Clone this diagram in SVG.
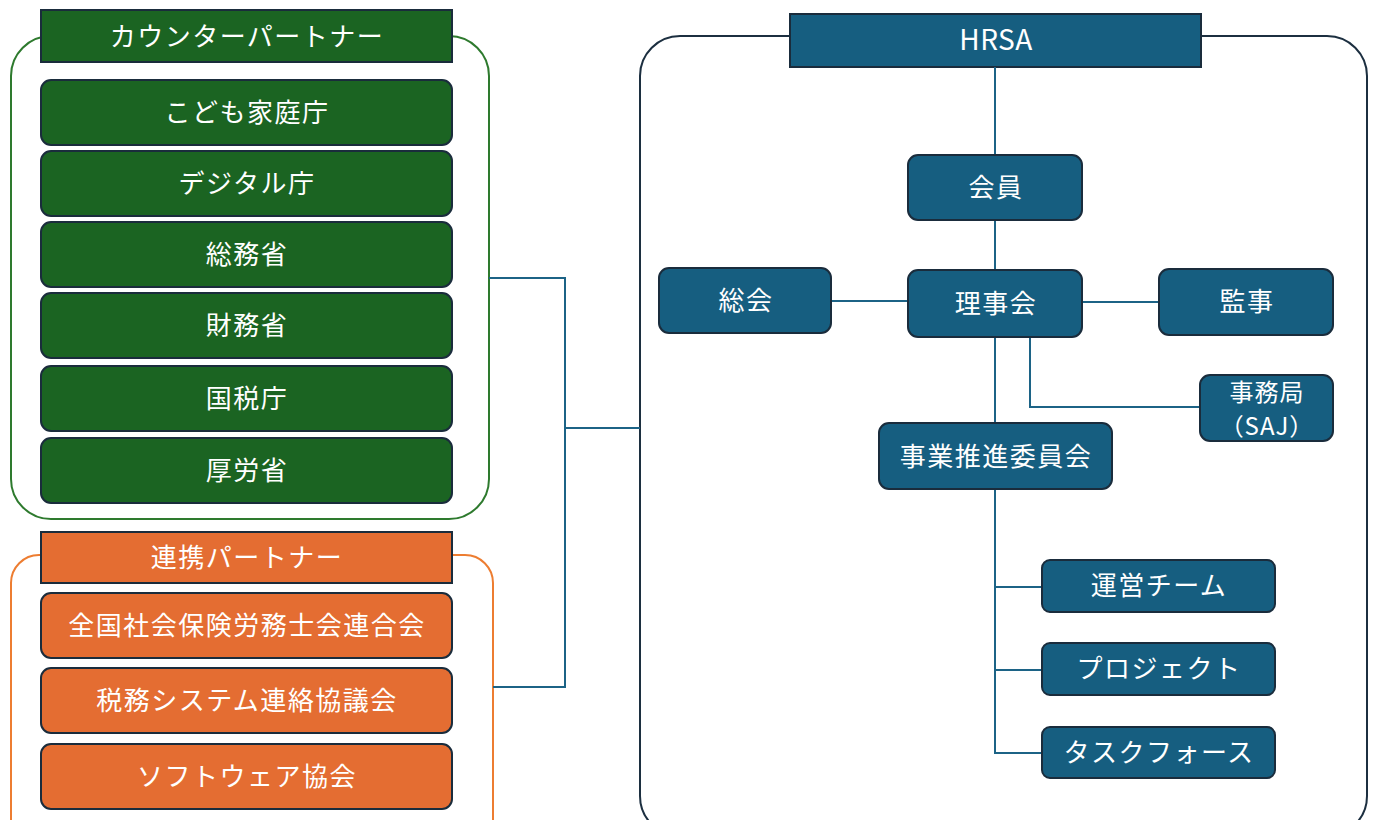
<svg xmlns="http://www.w3.org/2000/svg" width="1373" height="820" viewBox="0 0 1373 820">
<style>
.t{font-family:"Noto Sans CJK JP","Noto Sans",sans-serif;font-size:26px;letter-spacing:1.5px;fill:#ffffff;text-anchor:middle;dominant-baseline:central}
.s{font-size:24px;letter-spacing:1px}
.h{font-size:28px;letter-spacing:0.5px}
.g{fill:#1b6422;stroke:#1a2c3c;stroke-width:2}
.o{fill:#e46d32;stroke:#1a2c3c;stroke-width:2}
.b{fill:#165e80;stroke:#1a2c3c;stroke-width:2}
.c{fill:none;stroke:#1c6386;stroke-width:2}
</style>
<rect width="1373" height="820" fill="#ffffff"/>
<g id="counter-partner">
<rect x="11" y="36" width="478" height="483" rx="40" fill="none" stroke="#2e7a2e" stroke-width="2"/>
<rect class="g" x="41" y="10" width="411" height="52"/>
<text class="t" x="247" y="34">カウンターパートナー</text>
</g>
<g id="n-kodomo"><rect class="g" x="41" y="80" width="411" height="65" rx="10"/><text class="t" x="247" y="110">こども家庭庁</text></g>
<g id="n-digital"><rect class="g" x="41" y="151" width="411" height="65" rx="10"/><text class="t" x="247" y="181">デジタル庁</text></g>
<g id="n-soumu"><rect class="g" x="41" y="222" width="411" height="65" rx="10"/><text class="t" x="247" y="252">総務省</text></g>
<g id="n-zaimu"><rect class="g" x="41" y="293" width="411" height="65" rx="10"/><text class="t" x="247" y="323">財務省</text></g>
<g id="n-kokuzei"><rect class="g" x="41" y="366" width="411" height="65" rx="10"/><text class="t" x="247" y="396">国税庁</text></g>
<g id="n-kourou"><rect class="g" x="41" y="438" width="411" height="65" rx="10"/><text class="t" x="247" y="468">厚労省</text></g>

<g id="renkei-partner">
<rect x="11" y="555" width="482" height="300" rx="28" fill="none" stroke="#ed7d31" stroke-width="2"/>
<rect class="o" x="41" y="532" width="411" height="51"/>
<text class="t" x="247" y="555">連携パートナー</text>
</g>
<g id="n-shakai"><rect class="o" x="41" y="593" width="411" height="65" rx="10"/><text class="t" x="247" y="623">全国社会保険労務士会連合会</text></g>
<g id="n-zeimu"><rect class="o" x="41" y="668" width="411" height="65" rx="10"/><text class="t" x="247" y="698">税務システム連絡協議会</text></g>
<g id="n-software"><rect class="o" x="41" y="744" width="411" height="65" rx="10"/><text class="t" x="247" y="774">ソフトウェア協会</text></g>

<g id="hrsa">
<rect x="640" y="36" width="727" height="800" rx="40" fill="none" stroke="#1c2f40" stroke-width="2"/>
<rect class="b" x="790" y="14" width="411" height="53"/>
<text class="t h" x="996" y="38">HRSA</text>
</g>

<g id="connectors">
<polyline class="c" points="489,278 565,278 565,687 493,687"/>
<line class="c" x1="565" y1="428" x2="640" y2="428"/>
<line class="c" x1="995" y1="67" x2="995" y2="155"/>
<line class="c" x1="995" y1="220" x2="995" y2="270"/>
<line class="c" x1="995" y1="337" x2="995" y2="423"/>
<line class="c" x1="831" y1="301" x2="908" y2="301"/>
<line class="c" x1="1082" y1="302" x2="1159" y2="302"/>
<polyline class="c" points="1030,337 1030,407 1200,407"/>
<polyline class="c" points="995,489 995,753 1042,753"/>
<line class="c" x1="995" y1="587" x2="1042" y2="587"/>
<line class="c" x1="995" y1="670" x2="1042" y2="670"/>
</g>

<g id="n-kaiin"><rect class="b" x="908" y="155" width="174" height="65" rx="10"/><text class="t" x="996" y="185">会員</text></g>
<g id="n-soukai"><rect class="b" x="659" y="268" width="172" height="65" rx="10"/><text class="t" x="746" y="298">総会</text></g>
<g id="n-rijikai"><rect class="b" x="908" y="270" width="174" height="67" rx="10"/><text class="t" x="996" y="301">理事会</text></g>
<g id="n-kanji"><rect class="b" x="1159" y="269" width="174" height="66" rx="10"/><text class="t" x="1247" y="299">監事</text></g>
<g id="n-jimukyoku"><rect class="b" x="1200" y="375" width="133" height="66" rx="10"/><text class="t s" x="1267" y="390">事務局</text><text class="t s" x="1267" y="424">（SAJ）</text></g>
<g id="n-jigyou"><rect class="b" x="879" y="423" width="233" height="66" rx="10"/><text class="t" x="996" y="454">事業推進委員会</text></g>
<g id="n-unei"><rect class="b" x="1042" y="560" width="233" height="52" rx="8"/><text class="t" x="1159" y="583">運営チーム</text></g>
<g id="n-project"><rect class="b" x="1042" y="643" width="233" height="52" rx="8"/><text class="t" x="1159" y="666">プロジェクト</text></g>
<g id="n-task"><rect class="b" x="1042" y="727" width="233" height="51" rx="8"/><text class="t" x="1159" y="750">タスクフォース</text></g>
</svg>
